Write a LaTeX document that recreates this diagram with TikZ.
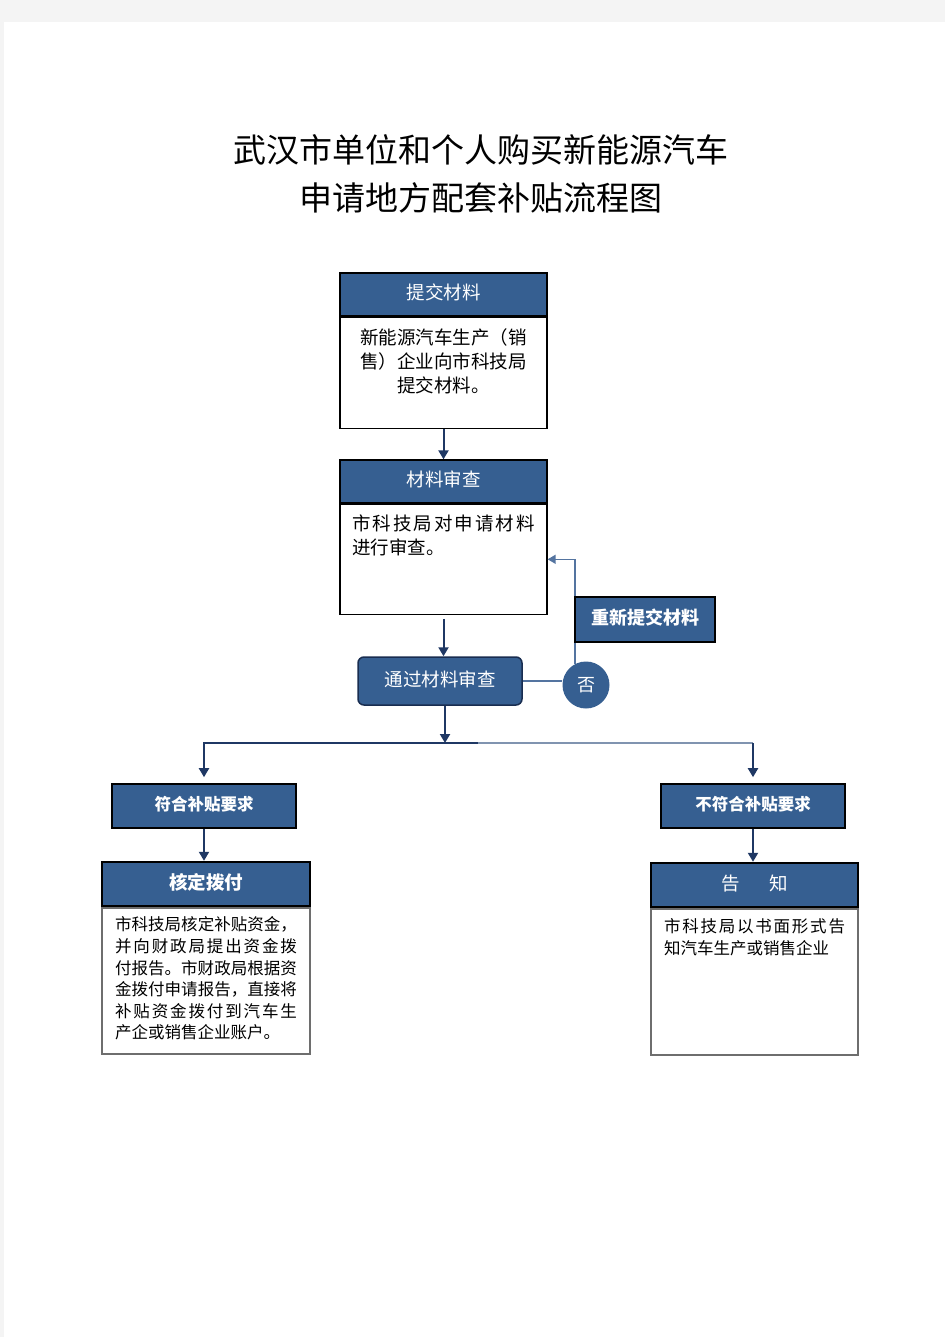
\documentclass[tikz,border=0pt]{standalone}
\usepackage{fontspec}
\setmainfont{Noto Sans CJK SC}
\XeTeXlinebreaklocale "zh"
\XeTeXlinebreakskip=0pt plus 3pt
\usetikzlibrary{positioning,arrows.meta}
\definecolor{hdrblue}{RGB}{54,95,145}
\definecolor{navy}{RGB}{31,56,100}
\definecolor{steel}{RGB}{84,116,160}
\definecolor{greyblue}{RGB}{128,148,176}
\definecolor{pagegrey}{RGB}{244,244,244}
\definecolor{edgegrey}{RGB}{110,110,110}
\tikzset{
  headbox/.style = {rectangle, draw=black, line width=1.3pt, fill=hdrblue, text=white,
    minimum width=207pt, minimum height=43pt, inner sep=0pt, text depth=5pt,
    font=\fontsize{18.5}{18.5}\selectfont},
  bodybox/.style = {rectangle, draw=black, line width=1.3pt, fill=white,
    inner xsep=12pt, inner ysep=11pt, font=\fontsize{18.5}{24}\selectfont},
  lowbox/.style = {bodybox, draw=edgegrey, inner xsep=13pt, inner ysep=9pt,
    font=\fontsize{16.5}{21.6}\selectfont},
  passbox/.style = {headbox, rounded corners=6pt, draw=navy!80!black, line width=1.5pt,
    minimum width=164pt, minimum height=48pt},
  nocircle/.style = {circle, fill=hdrblue, text=white, minimum size=47pt, inner sep=0pt,
    font=\fontsize{18}{18}\selectfont},
  redobox/.style = {headbox, line width=1.6pt, minimum width=140pt, minimum height=45pt,
    font=\fontsize{18}{18}\selectfont\bfseries},
  reqbox/.style = {headbox, line width=1.6pt, minimum width=184pt, minimum height=44pt,
    font=\fontsize{16.5}{16.5}\selectfont\bfseries},
  arrowline/.style = {draw=navy, line width=2pt, -{Triangle[width=10pt,length=9pt]}},
  steelline/.style = {draw=steel, line width=1.5pt},
}

\begin{document}
\begin{tikzpicture}[x=1pt,y=-1pt]
\useasboundingbox (0,0) rectangle (945,1337);
\fill[pagegrey] (0,0) rectangle (945,1337);
\fill[white] (4,22) rectangle (945,1337);

\node[align=center, font=\fontsize{33}{48}\selectfont] (title) at (481,174)
  {武汉市单位和个人购买新能源汽车\\申请地方配套补贴流程图};

\node[headbox] (tjhead) at (443.5,294.5) {提交材料};
\node[bodybox, below=0pt of tjhead] (tjbody)
  {\parbox[t][89pt][t]{183pt}{\centering 新能源汽车生产（销\\售）企业向市科技局\\提交材料。}};

\node[headbox] (shhead) at (443.5,481.5) {材料审查};
\node[bodybox, below=0pt of shhead] (shbody)
  {\parbox[t][88pt][t]{183pt}{市科技局对申请材料\linebreak 进行审查。}};

\node[passbox] (tgbox) at (440,681) {通过材料审查};
\node[nocircle] (fou) at (586,685) {否};

\draw[steelline] (tgbox.east) -- (fou.west |- tgbox.east);
\draw[steelline, -{Triangle[width=9pt,length=8pt]}] (fou.118) |- (shbody.east);
\node[redobox] (cxbox) at (645,619.5) {重新提交材料};

\draw[arrowline] (tjbody.south) -- (shhead.north);
\draw[arrowline, shorten <=4pt] (shbody.south) -- (shbody.south |- tgbox.north);

\node[reqbox] (fhhead) at (204,806) {符合补贴要求};
\node[reqbox] (bfhead) at (753,806) {不符合补贴要求};

\coordinate (split) at (445,743);
\coordinate (mid) at (478,743);
\draw[arrowline] ([xshift=5pt]tgbox.south) -- (split);
\draw[arrowline, shorten >=6pt] (mid) -- (split -| fhhead) -- (fhhead.north);
\draw[draw=greyblue, line width=1.5pt] (mid) -- (split -| bfhead);
\draw[arrowline, shorten >=6pt] (split -| bfhead) -- (bfhead.north);

\node[headbox, line width=2.4pt, minimum width=208pt, minimum height=44pt,
  font=\fontsize{18.5}{18.5}\selectfont\bfseries] (hdhead) at (206,884) {核定拨付};
\node[lowbox, below=0pt of hdhead] (hdbody)
  {\parbox[t][128pt][t]{182pt}{市科技局核定补贴资金，\linebreak 并向财政局提出资金拨\linebreak
   付报告。市财政局根据资\linebreak 金拨付申请报告，直接将\linebreak
   补贴资金拨付到汽车生\linebreak 产企或销售企业账户。}};

\node[headbox, line width=2.4pt, minimum height=44pt] (gzhead) at (754.5,885) {告\hspace{1.6em}知};
\node[lowbox, inner ysep=10pt, below=0pt of gzhead] (gzbody)
  {\parbox[t][126pt][t]{181pt}{\baselineskip=22pt 市科技局以书面形式告\linebreak 知汽车生产或销售企业}};

\draw[arrowline] (fhhead.south) -- (fhhead.south |- hdhead.north);
\draw[arrowline] (bfhead.south) -- (bfhead.south |- gzhead.north);
\end{tikzpicture}
\end{document}
